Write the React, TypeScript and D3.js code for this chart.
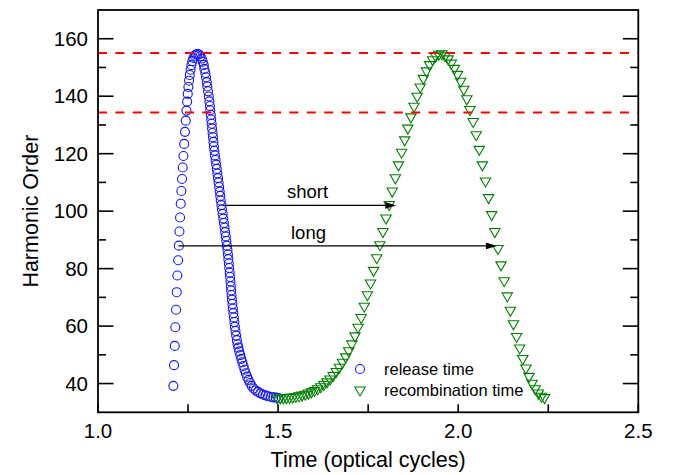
import React from "react";
import * as d3 from "d3";

// ---- data ----
const releaseTime = [
  1.2092, 1.2111, 1.2131, 1.2147, 1.2167, 1.2186, 1.2203, 1.2225, 1.2244, 1.2261,
  1.2278, 1.2297, 1.2314, 1.2333, 1.2353, 1.2372, 1.2394, 1.2415, 1.2436, 1.2455,
  1.2474, 1.2492, 1.251, 1.2529, 1.2548, 1.2568, 1.2592, 1.2619, 1.2649, 1.2684,
  1.272, 1.2758,
  1.2806, 1.2842, 1.2881, 1.2908, 1.2936, 1.2953, 1.2981, 1.3, 1.3019, 1.3036,
  1.3056, 1.3075, 1.3092, 1.3106, 1.3117, 1.3131, 1.3142, 1.3156, 1.3167, 1.3181,
  1.3192, 1.3206, 1.3217, 1.3231, 1.3247, 1.3264, 1.3281, 1.3297, 1.3314, 1.3331,
  1.3347, 1.3364, 1.3378, 1.3394, 1.3408, 1.3425, 1.3442, 1.3461, 1.3478, 1.3494,
  1.3514, 1.3531, 1.3547, 1.3564, 1.3578, 1.3594, 1.3608, 1.3619, 1.3633, 1.3644,
  1.3656, 1.3667, 1.3678, 1.3686, 1.3697, 1.3708, 1.3719, 1.3733, 1.3744, 1.3758,
  1.3772, 1.3786, 1.38, 1.3817, 1.3836, 1.3856, 1.3875, 1.3897, 1.3922, 1.395,
  1.3978, 1.4008, 1.4039, 1.4069, 1.4103, 1.4139, 1.4178, 1.4219, 1.4267, 1.4319,
  1.4378, 1.4442, 1.4508, 1.4578, 1.4647, 1.4719, 1.4792, 1.4864, 1.4936, 1.5008,
];
const releaseOrder = [
  39.2, 46.4, 53.1, 59.6, 65.7, 71.8, 77.6, 82.9, 88.0, 92.9,
  97.8, 102.6, 107.0, 111.2, 115.2, 119.2, 123.4, 127.6, 131.5, 135.0,
  138.1, 140.8, 143.2, 145.4, 147.4, 149.2, 150.8, 152.2, 153.3, 154.1,
  154.5, 154.7,
  154.5, 153.9, 153.1, 152.0, 150.9, 149.5, 148.1, 146.6, 144.9, 143.4,
  141.7, 139.9, 138.2, 136.6, 135.1, 133.5, 131.9, 130.4, 128.8, 127.2,
  125.7, 124.1, 122.5, 121.0, 119.4, 117.8, 116.2, 114.7, 113.1, 111.5,
  110.0, 108.4, 106.8, 105.3, 103.7, 102.1, 100.6, 99.0, 97.4, 95.9,
  94.3, 92.7, 91.2, 89.6, 88.0, 86.5, 84.9, 83.3, 81.8, 80.2,
  78.6, 77.1, 75.5, 73.9, 72.4, 70.8, 69.2, 67.7, 66.1, 64.5,
  63.0, 61.4, 59.8, 58.3, 56.7, 55.1, 53.7, 52.5, 51.2, 49.9,
  48.6, 47.4, 46.1, 44.8, 43.6, 42.4, 41.3, 40.2, 39.2, 38.3,
  37.6, 37.1, 36.6, 36.2, 35.9, 35.6, 35.4, 35.2, 35.1, 35.0,
];
const recombTime = [
  1.4976, 1.5062, 1.5149, 1.5235, 1.5321, 1.5408, 1.5494, 1.558, 1.5666, 1.5753,
  1.5839, 1.5925, 1.6012, 1.6098, 1.6184, 1.6271, 1.6357, 1.6443, 1.6529, 1.6616,
  1.6702, 1.6788, 1.6875, 1.6961, 1.7047, 1.7134, 1.722, 1.7306, 1.7392, 1.7479,
  1.7565, 1.7651, 1.7738, 1.7824, 1.791, 1.7997, 1.8083, 1.8169, 1.8255, 1.8342,
  1.8428, 1.8514, 1.8601, 1.8687, 1.8773, 1.886, 1.8946, 1.9032, 1.9118, 1.9205,
  1.9291, 1.9377, 1.9464, 1.955, 1.9636, 1.9722, 1.9808, 1.9895, 1.9981, 2.0067,
  2.0154, 2.024, 2.0326, 2.0413, 2.0499, 2.0585, 2.0672, 2.0758, 2.0844, 2.093,
  2.1017, 2.1103, 2.1189, 2.1276, 2.1362, 2.1448, 2.1534, 2.1621, 2.1707, 2.1793,
  2.188, 2.1966, 2.2052, 2.2138, 2.2225, 2.2311, 2.2397,
];
const recombOrder = [
  35.0, 35.0, 35.05, 35.1, 35.2, 35.3, 35.5, 35.7, 36.0, 36.3,
  36.7, 37.1, 37.6, 38.2, 38.9, 39.7, 40.6, 41.6, 42.8, 44.2,
  45.7, 47.4, 49.3, 51.4, 53.8, 56.6, 59.6, 63.0, 66.9, 70.9,
  75.0, 79.4, 83.8, 88.3, 92.9, 97.6, 102.3, 107.0, 111.6, 116.1,
  120.5, 124.8, 128.9, 132.8, 136.5, 140.0, 143.2, 146.2, 148.8, 151.0,
  152.7, 153.9, 154.6, 154.8, 154.1, 153.0, 151.5, 149.7, 147.6, 145.2,
  142.4, 139.1, 135.4, 131.2, 126.6, 121.5, 116.1, 110.5, 104.7, 98.8,
  92.9, 87.0, 81.3, 75.8, 70.5, 65.5, 60.8, 56.4, 52.4, 48.7,
  45.4, 42.5, 40.1, 38.2, 36.7, 35.6, 35.1,
];
const cutoffLines = [155, 134.3];
const xMajorTicks = [1.0, 1.5, 2.0, 2.5];
const xMinorTicks = [1.25, 1.75, 2.25];
const yMajorTicks = [40, 60, 80, 100, 120, 140, 160];
const yMinorTicks = [50, 70, 90, 110, 130, 150];
const arrowLabels = ["short", "long"];
const arrowOrder = [102.0, 87.9];
const arrowFrom = [1.3472, 1.2231];
const arrowTo = [1.8278, 2.1075];
const legendLabels = ["release time", "recombination time"];

const FONT = "'Liberation Sans', Arial, sans-serif";

export default function App() {
  const W = 680, H = 475;
  const x = d3.scaleLinear().domain([1, 2.5]).range([98, 638.3]);
  const y = d3.scaleLinear().domain([30, 170]).range([412.3, 10]);
  const [x0, x1] = x.range();
  const [yb, yt] = y.range();
  const fmt = d3.format(".1f");
  const tri = "M-5.2,-3L5.2,-3L0,6Z";
  const majorLen = 15.5, minorLen = 8, xTickLen = 8;

  return (
    <svg width={W} height={H} style={{ position: "absolute", left: 0, top: 0, background: "#fff" }}
      fontFamily={FONT}>
      <rect x={0} y={0} width={W} height={H} fill="#fff" />
      {/* release time markers */}
      <g fill="none" stroke="#1414ff" strokeWidth={1.1}>
        {releaseTime.map((t, i) => (
          <circle key={i} cx={x(t)} cy={y(releaseOrder[i])} r={4.5} />
        ))}
      </g>
      {/* recombination time markers */}
      <g fill="none" stroke="#008000" strokeWidth={1.1} strokeLinejoin="miter">
        {recombTime.map((t, i) => (
          <path key={i} d={tri} transform={`translate(${x(t)},${y(recombOrder[i])})`} />
        ))}
      </g>
      {/* dashed cutoff lines */}
      {cutoffLines.map((v, i) => (
        <line key={i} x1={x0} x2={x1} y1={y(v)} y2={y(v)} stroke="#ff0000" strokeWidth={2}
          strokeDasharray="9 8.4" />
      ))}
      {/* arrows */}
      {arrowLabels.map((lab, i) => {
        const yy = y(arrowOrder[i]);
        const xs = x(arrowFrom[i]);
        const xe = x(arrowTo[i]);
        return (
          <g key={i}>
            <line x1={xs} x2={xe - 9} y1={yy} y2={yy} stroke="#000" strokeWidth={1.1} />
            <path d={`M${xe},${yy}L${xe - 11},${yy - 3.3}L${xe - 11},${yy + 3.3}Z`} fill="#000" />
          </g>
        );
      })}
      <text x={287} y={198} fontSize={18.5} fill="#000">{arrowLabels[0]}</text>
      <text x={291} y={238.5} fontSize={18.5} fill="#000">{arrowLabels[1]}</text>
      {/* legend */}
      <circle cx={360} cy={369} r={4.5} fill="none" stroke="#1414ff" strokeWidth={1.1} />
      <path d={tri} transform="translate(360,390)" fill="none" stroke="#008000" strokeWidth={1.1} />
      <text x={384} y={375} fontSize={16.5} fill="#000">{legendLabels[0]}</text>
      <text x={384} y={395.5} fontSize={16.5} fill="#000">{legendLabels[1]}</text>
      {/* frame */}
      <rect x={x0} y={yt} width={x1 - x0} height={yb - yt} fill="none" stroke="#000" strokeWidth={1.8} />
      {/* x ticks */}
      {xMajorTicks.map((v, i) => (
        <g key={"xm" + i}>
          <line x1={x(v)} x2={x(v)} y1={yb} y2={yb - xTickLen} stroke="#000" strokeWidth={1.6} />
          <text x={x(v)} y={437.5} fontSize={20.5} textAnchor="middle" fill="#000">{fmt(v)}</text>
        </g>
      ))}
      {xMinorTicks.map((v, i) => (
        <line key={"xn" + i} x1={x(v)} x2={x(v)} y1={yb} y2={yb - minorLen} stroke="#000" strokeWidth={1.6} />
      ))}
      {/* y ticks, left and right */}
      {yMajorTicks.map((v, i) => (
        <g key={"ym" + i}>
          <line x1={x0} x2={x0 + majorLen} y1={y(v)} y2={y(v)} stroke="#000" strokeWidth={1.6} />
          <line x1={x1} x2={x1 - majorLen} y1={y(v)} y2={y(v)} stroke="#000" strokeWidth={1.6} />
          <text x={88} y={y(v)} dy="0.35em" fontSize={20.5} textAnchor="end" fill="#000">{v}</text>
        </g>
      ))}
      {yMinorTicks.map((v, i) => (
        <g key={"yn" + i}>
          <line x1={x0} x2={x0 + minorLen} y1={y(v)} y2={y(v)} stroke="#000" strokeWidth={1.6} />
          <line x1={x1} x2={x1 - minorLen} y1={y(v)} y2={y(v)} stroke="#000" strokeWidth={1.6} />
        </g>
      ))}
      {/* axis titles */}
      <text x={(x0 + x1) / 2} y={467} fontSize={21.5} textAnchor="middle" fill="#000">Time (optical cycles)</text>
      <text transform={`translate(37.5,${(yb + yt) / 2}) rotate(-90)`} fontSize={21.5} textAnchor="middle" fill="#000">
        Harmonic Order
      </text>
    </svg>
  );
}
